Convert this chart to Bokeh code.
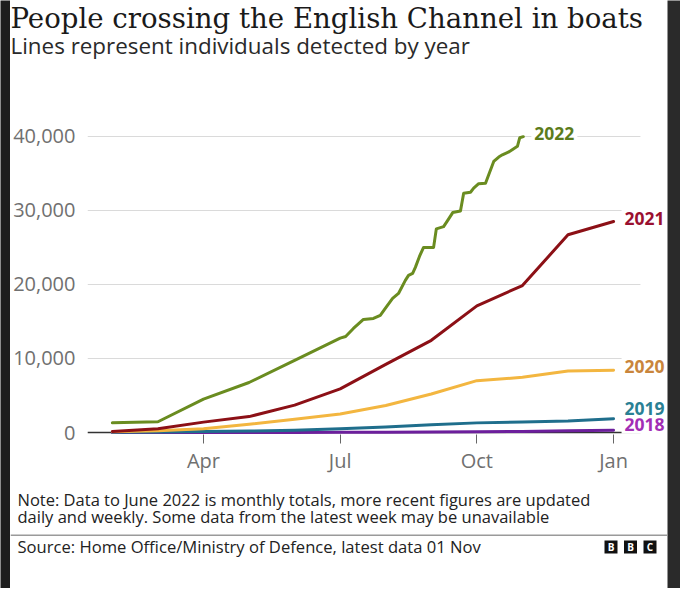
from bokeh.plotting import figure
from bokeh.models import Range1d, Span, Label, FixedTicker, NumeralTickFormatter, BoxAnnotation
from bokeh.layouts import column, row
from bokeh.embed import file_html
from bokeh.resources import INLINE
from bokeh.core.properties import value

# ---------------- data ----------------
# x = months elapsed in the year (1 = end of Jan ... 12 = end of Dec)
months = [1, 2, 3, 4, 5, 6, 7, 8, 9, 10, 11, 12]
tick_pos = [3, 6, 9, 12]
tick_labels = ["Apr", "Jul", "Oct", "Jan"]
y_ticks = [0, 10000, 20000, 30000, 40000]

crossings_2018 = [0, 0, 0, 0, 10, 20, 40, 70, 100, 150, 220, 290]
crossings_2019 = [40, 80, 130, 200, 300, 500, 750, 1050, 1300, 1420, 1560, 1850]
crossings_2020 = [100, 250, 500, 1100, 1800, 2500, 3650, 5200, 7000, 7450, 8300, 8400]
crossings_2021 = [150, 500, 1400, 2150, 3700, 5900, 9200, 12450, 17100, 19850, 26700, 28500]

months_2022 = [1, 2, 3, 4, 5, 6, 6.12, 6.29, 6.51, 6.73, 6.88, 6.99, 7.15, 7.28,
               7.43, 7.50, 7.59, 7.65, 7.74, 7.83, 8.05, 8.11, 8.27, 8.36, 8.47,
               8.64, 8.71, 8.86, 8.93, 9.04, 9.19, 9.26, 9.37, 9.48, 9.56, 9.69,
               9.80, 9.89, 9.94, 10.02]
crossings_2022 = [1300, 1450, 4500, 6750, 9750, 12750, 12970, 14050, 15270, 15400,
                  15810, 16760, 18110, 18780, 20540, 21220, 21490, 22300, 23780,
                  25000, 25000, 27500, 27800, 28650, 29700, 29900, 32300, 32450,
                  33000, 33600, 33650, 34800, 36600, 37200, 37500, 37850, 38300,
                  38650, 39800, 39950]

series = [
    ("2018", months, crossings_2018, "#6c1f9c", "#a22db5", 6),
    ("2019", months, crossings_2019, "#1f6e8c", "#2a8094", 10),
    ("2020", months, crossings_2020, "#f3b640", "#c9853c", 4),
    ("2021", months, crossings_2021, "#8c1016", "#9a1030", 3),
    ("2022", months_2022, crossings_2022, "#6a8c20", "#5c7c1c", 3),
]

title_text = "People crossing the English Channel in boats"
subtitle_text = "Lines represent individuals detected by year"
note_lines = ["Note: Data to June 2022 is monthly totals, more recent figures are updated",
              "daily and weekly. Some data from the latest week may be unavailable"]
source_text = "Source: Home Office/Ministry of Defence, latest data 01 Nov"
logo_letters = ["B", "B", "C"]

SANS = "Open Sans"
W = 657


def blank(width, height, fill):
    f = figure(width=width, height=height, output_backend="svg", toolbar_location=None,
               x_range=Range1d(0, width), y_range=Range1d(height, 0), min_border=0,
               frame_align=False)
    f.outline_line_color = None
    f.background_fill_color = fill
    f.border_fill_color = fill
    f.axis.visible = False
    f.grid.visible = False
    return f


def text_label(fig, x, y, text, size, font=SANS, color="#222222", style="normal"):
    fig.add_layout(Label(x=x, y=y, text=text, text_font=font, text_font_size=size,
                         text_color=color, text_font_style=style,
                         text_baseline="alphabetic", text_align="left"))


# ---------------- header ----------------
header = blank(W, 62, "white")
text_label(header, 0, 17.5, title_text, "27.6px", font="DejaVu Serif", color="#1a1a1a")
text_label(header, 0, 44.5, subtitle_text, "22.4px", color="#2a2a2a")

# ---------------- main chart ----------------
p = figure(width=W, height=418, output_backend="svg", toolbar_location=None,
           x_range=Range1d(0.454, 13.184), y_range=Range1d(-270, 42000),
           min_border_left=77, min_border_right=0, min_border_top=59,
           min_border_bottom=46, frame_align=False)
p.outline_line_color = None
p.background_fill_color = "white"
p.border_fill_color = "white"
p.xgrid.grid_line_color = None
p.ygrid.grid_line_color = "#dadada"
p.ygrid.grid_line_width = 1

p.yaxis.ticker = FixedTicker(ticks=y_ticks)
p.yaxis.formatter = NumeralTickFormatter(format="0,0")
p.yaxis.axis_line_color = None
p.yaxis.major_tick_line_color = None
p.yaxis.major_tick_in = 0
p.yaxis.major_tick_out = 0
p.yaxis.minor_tick_line_color = None
p.yaxis.minor_tick_in = 0
p.yaxis.minor_tick_out = 0
p.yaxis.major_label_standoff = 12
p.yaxis.major_label_text_font = SANS
p.yaxis.major_label_text_font_size = "20px"
p.yaxis.major_label_text_color = "#707070"

p.xaxis.ticker = FixedTicker(ticks=tick_pos)
p.xaxis.major_label_overrides = {t: l for t, l in zip(tick_pos, tick_labels)}
p.xaxis.axis_line_color = None
p.xaxis.major_tick_in = 0
p.xaxis.major_tick_out = 9
p.xaxis.major_tick_line_color = "#666666"
p.xaxis.minor_tick_line_color = None
p.xaxis.major_label_standoff = 3
p.xaxis.major_label_text_font = SANS
p.xaxis.major_label_text_font_size = "20px"
p.xaxis.major_label_text_color = "#707070"

p.add_layout(Span(location=0, dimension="width", line_color="#333333",
                  line_width=1.5, level="underlay"))

for name, xs, ys, lc, tc, yoff in series:
    p.line(xs, ys, line_color=lc, line_width=3, line_join="round", line_cap="round")

# the chart area ends a little after the last tick; labels sit in the margin
p.add_layout(BoxAnnotation(left=12.59, fill_color="white", fill_alpha=1.0,
                           line_color=None))

for name, xs, ys, lc, tc, yoff in series:
    p.add_layout(Label(x=xs[-1], y=ys[-1], text=name, x_offset=8, y_offset=yoff,
                       text_baseline="middle", text_align="left",
                       text_font=SANS, text_font_style="bold",
                       text_font_size="17.5px", text_color=tc,
                       background_fill_color="white", padding=3))

# ---------------- footer ----------------
footer = blank(W, 108, "white")
text_label(footer, 7, 18.7, note_lines[0], "16.5px")
text_label(footer, 7, 36.3, note_lines[1], "16.5px")
footer.add_layout(Span(location=54.8, dimension="width", line_color="#9a9a9a",
                       line_width=1.5))
text_label(footer, 7, 66, source_text, "16.6px")
logo_x = [600.5, 620, 639.5]
footer.rect(x=logo_x, y=[66.5] * 3, width=13, height=13, fill_color="#111111",
            line_color=None)
footer.text(x=logo_x, y=[66.5] * 3, text=logo_letters, text_align="center",
            text_baseline="middle", text_color="white", text_font=value(SANS),
            text_font_style="bold", text_font_size="10px")

left_strip = blank(10, 588, "#1d1d1d")
right_strip = blank(13, 588, "#2a2a2a")

layout = row(left_strip, column(header, p, footer, spacing=0), right_strip, spacing=0)
open("out.html", "w").write(file_html(layout, INLINE))
